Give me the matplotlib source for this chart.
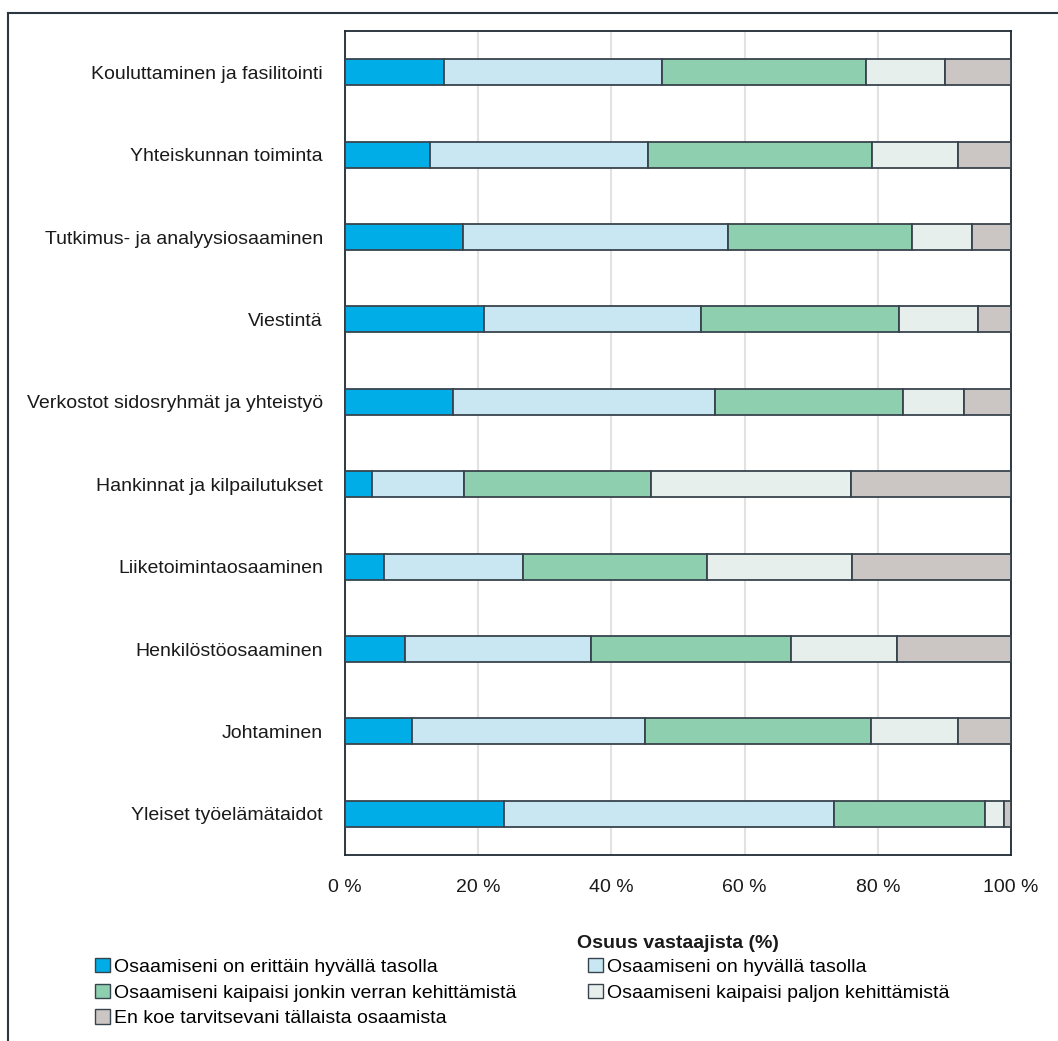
import matplotlib.pyplot as plt
import numpy as np
from matplotlib.patches import Patch
from matplotlib.lines import Line2D

plt.rcParams['font.family'] = ['Liberation Sans', 'DejaVu Sans']

categories = [
    'Kouluttaminen ja fasilitointi',
    'Yhteiskunnan toiminta',
    'Tutkimus- ja analyysiosaaminen',
    'Viestintä',
    'Verkostot sidosryhmät ja yhteistyö',
    'Hankinnat ja kilpailutukset',
    'Liiketoimintaosaaminen',
    'Henkilöstöosaaminen',
    'Johtaminen',
    'Yleiset työelämätaidot',
]

series_names = [
    'Osaamiseni on erittäin hyvällä tasolla',
    'Osaamiseni on hyvällä tasolla',
    'Osaamiseni kaipaisi jonkin verran kehittämistä',
    'Osaamiseni kaipaisi paljon kehittämistä',
    'En koe tarvitsevani tällaista osaamista',
]

erittain_hyva = [14.9, 12.8, 17.7, 20.8, 16.2, 4.0, 5.9, 9.0, 10.0, 23.9]
hyva = [32.7, 32.7, 39.8, 32.6, 39.4, 13.9, 20.8, 28.0, 35.0, 49.5]
jonkin_verran = [30.7, 33.7, 27.7, 29.8, 28.2, 28.1, 27.7, 29.9, 34.0, 22.7]
paljon = [11.8, 12.9, 9.0, 11.9, 9.2, 30.0, 21.7, 16.0, 13.1, 2.9]
ei_tarvetta = [9.9, 7.9, 5.8, 4.9, 7.0, 24.0, 23.9, 17.1, 7.9, 1.0]

colors = ['#00ade6', '#c8e7f3', '#8ecfb0', '#e7efec', '#cbc6c3']
edge = '#38444d'

fig = plt.figure(figsize=(10.58, 10.41), dpi=100)
ax = fig.add_axes([345 / 1058, 1 - 855 / 1041, 666 / 1058, 824 / 1041])

y = np.arange(len(categories))
left = np.zeros(len(categories))
for vals, col in zip([erittain_hyva, hyva, jonkin_verran, paljon, ei_tarvetta], colors):
    ax.barh(y, vals, left=left, height=0.315, color=col, edgecolor=edge,
            linewidth=1.3, zorder=3)
    left += np.array(vals)

ax.set_xlim(0, 100)
ax.set_ylim(len(categories) - 0.5, -0.5)
ax.set_yticks(y)
ax.set_yticklabels(categories, fontsize=14, color='#1a1a1a')
ax.set_xticks([0, 20, 40, 60, 80, 100])
ax.set_xticklabels([f'{v} %' for v in [0, 20, 40, 60, 80, 100]], fontsize=14,
                   color='#1a1a1a')
ax.tick_params(axis='both', length=0)
ax.tick_params(axis='y', pad=16)
ax.tick_params(axis='x', pad=17)
ax.grid(axis='x', color='#e2e2e2', linewidth=1.5, zorder=0)
ax.set_axisbelow(True)
for sp in ax.spines.values():
    sp.set_color('#1f2a33')
    sp.set_linewidth(1.3)

ax.set_xlabel('Osuus vastaajista (%)', fontsize=14, fontweight='bold',
              color='#1a1a1a', labelpad=28)

# legend fills column-wise, so reorder to get two items per row
handles = [Patch(facecolor=c, edgecolor=edge, linewidth=1.0) for c in colors]
order = [0, 2, 4, 1, 3]
fig.legend([handles[i] for i in order], [series_names[i] for i in order],
           loc='upper left', bbox_to_anchor=(95 / 1058, 1 - 958 / 1041),
           ncol=2, frameon=False, fontsize=14, handlelength=0.75,
           handleheight=0.75, handletextpad=0.25, labelspacing=0.4,
           columnspacing=3.65, borderpad=0, borderaxespad=0)

# outer frame lines on the left and top
fig.add_artist(Line2D([8 / 1058, 8 / 1058], [0, 1 - 13 / 1041],
                      color='#2b3640', linewidth=1.5))
fig.add_artist(Line2D([8 / 1058, 1], [1 - 13 / 1041, 1 - 13 / 1041],
                      color='#2b3640', linewidth=1.5))

fig.savefig('out.png', dpi=100)
